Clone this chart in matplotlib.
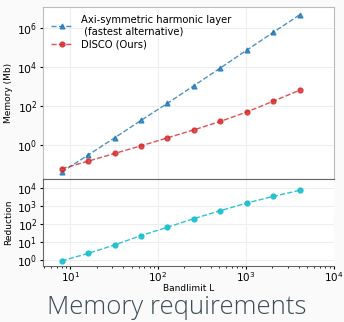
import matplotlib
matplotlib.use("Agg")
import matplotlib.pyplot as plt
import numpy as np

# bandlimits and memory (Mb)
bandlimit = [8, 16, 32, 64, 128, 256, 512, 1024, 2048, 4096]
mem_axisym = [0.04, 0.3, 2.3, 18, 137, 1100, 8900, 74000, 600000, 4.8e6]
mem_disco = [0.059, 0.145, 0.36, 0.89, 2.3, 5.9, 16, 49, 174, 640]
reduction = [0.85, 2.2, 6.6, 22, 64, 195, 540, 1440, 3400, 7400]

label_axisym = "Axi-symmetric harmonic layer\n (fastest alternative)"
label_disco = "DISCO (Ours)"

BG = "#fafafa"

fig = plt.figure(figsize=(3.44, 3.22), dpi=100)
fig.patch.set_facecolor(BG)

ax1 = fig.add_axes((0.125, 0.445, 0.845, 0.533))
ax2 = fig.add_axes((0.125, 0.175, 0.845, 0.27), sharex=ax1)

ax1.plot(bandlimit, mem_axisym, "^--", color="#1f77b4", alpha=0.8, ms=3.5, lw=1.0,
         label=label_axisym)
ax1.plot(bandlimit, mem_disco, "o--", color="#d62728", alpha=0.8, ms=3.5, lw=1.0,
         label=label_disco)
ax1.set_xscale("log")
ax1.set_yscale("log")
ax1.set_xlim(10 ** 0.69, 1e4)
ax1.set_ylim(10 ** -1.74, 10 ** 7.08)
ax1.set_yticks([1e0, 1e2, 1e4, 1e6])
ax1.yaxis.set_minor_locator(matplotlib.ticker.NullLocator())
ax1.set_ylabel("Memory (Mb)", fontsize=6.5, labelpad=3)
ax1.tick_params(axis="x", which="both", labelbottom=False, length=0)
ax1.tick_params(axis="y", labelsize=7.8, length=2, pad=2)
ax1.grid(True, color="#eeeeee", lw=0.8)
for s in ax1.spines.values():
    s.set_color("#bbbbbb")
    s.set_linewidth(0.8)
ax1.spines["bottom"].set_color("#666666")
leg = ax1.legend(loc="upper left", fontsize=7.2, frameon=False, handlelength=2.2,
                 borderaxespad=0.4, labelspacing=0.3)

ax2.plot(bandlimit, reduction, "o--", color="#17becf", alpha=0.9, ms=3.5, lw=1.0)
ax2.set_yscale("log")
ax2.set_ylim(10 ** -0.34, 10 ** 4.52)
ax2.set_yticks([1e0, 1e1, 1e2, 1e3, 1e4])
ax2.yaxis.set_minor_locator(matplotlib.ticker.NullLocator())
ax2.set_ylabel("Reduction", fontsize=6.5, labelpad=3)
ax2.set_xlabel("Bandlimit L", fontsize=6.5, labelpad=0)
ax2.tick_params(axis="y", labelsize=7.8, length=2, pad=2)
ax2.tick_params(axis="x", labelsize=7.5, length=2, pad=1)
ax2.tick_params(axis="x", which="minor", length=1.2)
ax2.grid(True, color="#eeeeee", lw=0.8)
ax2.spines["right"].set_visible(False)
for s in ("left", "bottom", "top"):
    ax2.spines[s].set_color("#666666")
    ax2.spines[s].set_linewidth(0.8)

fig.text(0.515, 0.025, "Memory requirements", ha="center", va="baseline",
         fontsize=18.5, color="#3b4d55", family="Open Sans", fontweight="light")

fig.savefig("out.png", dpi=100, facecolor=fig.get_facecolor())
